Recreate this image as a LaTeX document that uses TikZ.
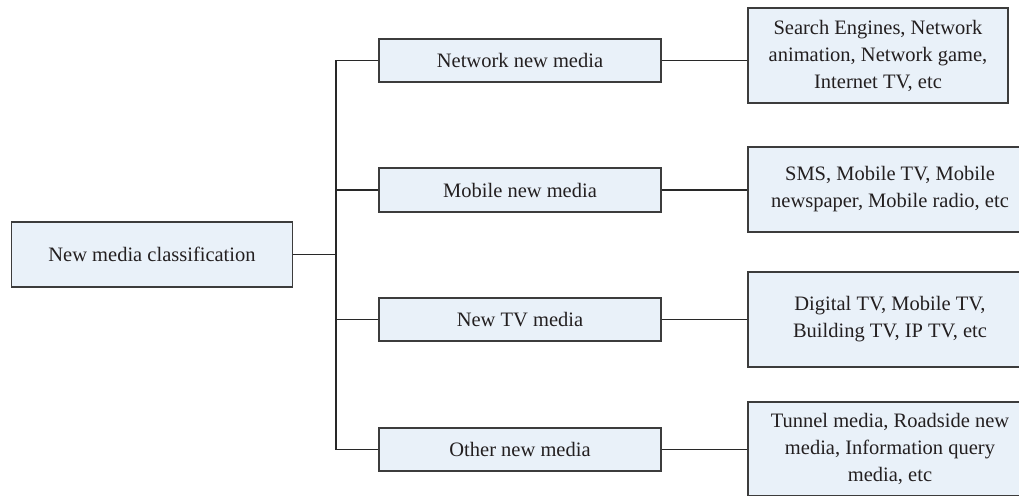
\documentclass[tikz,border=0pt]{standalone}
\usepackage{fontspec}
\setmainfont{Liberation Serif}
\definecolor{boxfill}{RGB}{233,241,249}
\definecolor{boxline}{RGB}{60,60,60}
\definecolor{txt}{RGB}{35,31,32}
\definecolor{conn}{RGB}{40,40,40}
\tikzset{
  mbox/.style={draw=boxline, line width=1.3pt, fill=boxfill, text=txt, inner sep=0pt,
    align=center, font=\fontsize{20.5}{27}\selectfont},
  link/.style={draw=conn, line width=1.1pt}
}
\begin{document}
\begin{tikzpicture}[x=1pt,y=-1pt]
\useasboundingbox (0,0) rectangle (1019,495);
\clip (0,0) rectangle (1019,495);
\node[mbox, minimum width=281pt, minimum height=65pt] (root) at (152,254.5) {New media classification};
\node[mbox, minimum width=282pt, minimum height=43pt] (n1) at (520,60.5) {Network new media};
\node[mbox, minimum width=282pt, minimum height=44pt] (n2) at (520,190) {Mobile new media};
\node[mbox, minimum width=282pt, minimum height=43pt] (n3) at (520,319.5) {New TV media};
\node[mbox, minimum width=282pt, minimum height=43pt] (n4) at (520,449.5) {Other new media};
\node[mbox, minimum width=260pt, minimum height=95pt] (r1) at (878,55.5) {Search Engines, Network\\animation, Network game,\\Internet TV, etc};
\node[mbox, minimum width=284pt, minimum height=85pt] (r2) at (890,189.5) {SMS, Mobile TV, Mobile\\newspaper, Mobile radio, etc};
\node[mbox, minimum width=284pt, minimum height=95pt] (r3) at (890,319.5) {Digital TV, Mobile TV,\\Building TV, IP TV, etc};
\node[mbox, minimum width=284pt, minimum height=94pt] (r4) at (890,449) {Tunnel media, Roadside new\\media, Information query\\media, etc};
\coordinate (sp) at (336,254.5);
\coordinate (sptop) at (336,60.5);
\coordinate (spbot) at (336,449.5);
\draw[link] (root.east) -- (sp);
\draw[link] (sptop) -- (spbot);
\foreach \n in {n1,n2,n3,n4}{
  \draw[link] (\n.west) -- (sp |- \n.west);
}
\draw[link] (n1.east) -- (r1.west |- n1.east);
\draw[link] (n2.east) -- (r2.west |- n2.east);
\draw[link] (n3.east) -- (r3.west |- n3.east);
\draw[link] (n4.east) -- (r4.west |- n4.east);
\end{tikzpicture}
\end{document}
